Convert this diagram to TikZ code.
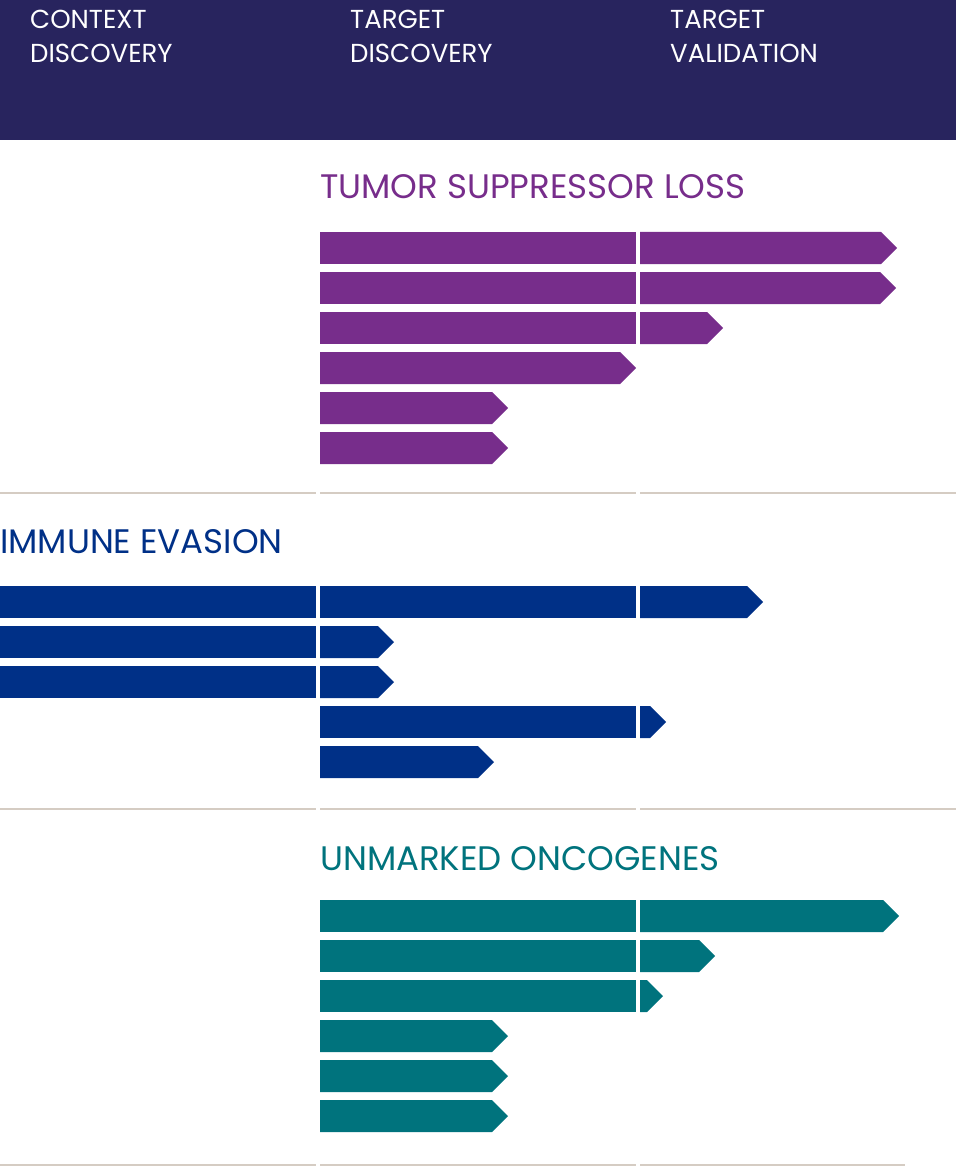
\documentclass[tikz,border=0pt]{standalone}
\usepackage{fontspec}
\setmainfont{Poppins}
\definecolor{headnavy}{HTML}{28245E}
\definecolor{tsloss}{HTML}{772D8B}
\definecolor{immune}{HTML}{003087}
\definecolor{onco}{HTML}{00737D}
\definecolor{rule}{HTML}{D5CCC3}
% plain block of a bar
\newcommand{\barblock}[4]{\fill[#1] (#2,#4) rectangle (#3,#4+32);}
% last block of a bar, pointed
\newcommand{\bartip}[4]{\fill[#1] (#2,#4) -- (#3-16,#4) -- (#3,#4+16) -- (#3-16,#4+32) -- (#2,#4+32) -- cycle;}
\tikzset{
  headtext/.style={anchor=base west, text=white, font=\fontsize{26}{34}\selectfont, align=left, inner sep=0pt},
  grouptitle/.style={anchor=base west, font=\fontsize{34}{40}\selectfont, inner sep=0pt},
  sepline/.style={rule, line width=2pt}
}
\begin{document}
\begin{tikzpicture}[x=1pt,y=-1pt]
\useasboundingbox (0,0) rectangle (956,1166);
\fill[headnavy] (0,0) rectangle (956,140);
\node[headtext] (ctx) at (30,63) {CONTEXT\\DISCOVERY};
\node[headtext] (tdis) at (350,63) {TARGET\\DISCOVERY};
\node[headtext] (tval) at (670,63) {TARGET\\VALIDATION};

% tumor suppressor loss
\node[grouptitle, text=tsloss] (ts) at (320,199) {TUMOR SUPPRESSOR LOSS};
\foreach \y/\e in {232/897,272/896,312/723} {
  \barblock{tsloss}{320}{636}{\y}
  \bartip{tsloss}{640}{\e}{\y}
}
\bartip{tsloss}{320}{636}{352}
\foreach \y in {392,432} {\bartip{tsloss}{320}{508}{\y}}
\foreach \a/\b in {0/316,320/636,640/956} {\draw[sepline] (\a,493) -- (\b,493);}

% immune evasion
\node[grouptitle, text=immune] (ie) at (0,553) {IMMUNE EVASION};
\barblock{immune}{0}{316}{586}
\barblock{immune}{320}{636}{586}
\bartip{immune}{640}{763}{586}
\foreach \y in {626,666} {
  \barblock{immune}{0}{316}{\y}
  \bartip{immune}{320}{394}{\y}
}
\barblock{immune}{320}{636}{706}
\bartip{immune}{640}{666}{706}
\bartip{immune}{320}{494}{746}
\foreach \a/\b in {0/316,320/636,640/956} {\draw[sepline] (\a,809) -- (\b,809);}

% unmarked oncogenes
\node[grouptitle, text=onco] (uo) at (320,870) {UNMARKED ONCOGENES};
\foreach \y/\e in {900/899,940/715,980/663} {
  \barblock{onco}{320}{636}{\y}
  \bartip{onco}{640}{\e}{\y}
}
\foreach \y in {1020,1060,1100} {\bartip{onco}{320}{508}{\y}}
\foreach \a/\b in {0/316,320/636,640/905} {\draw[sepline] (\a,1165) -- (\b,1165);}
\end{tikzpicture}
\end{document}
